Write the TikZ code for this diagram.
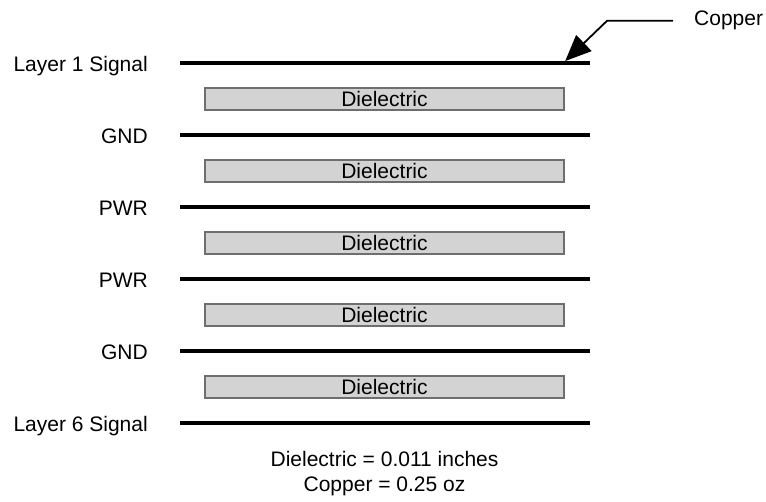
\documentclass[tikz,border=0pt]{standalone}
\usepackage{fontspec}
\setmainfont{Liberation Sans}
\usetikzlibrary{positioning,arrows.meta}
\definecolor{StackCopper}{RGB}{0,0,0}
\definecolor{StackEdge}{RGB}{110,110,110}
\definecolor{StackFill}{RGB}{211,211,211}

\begin{document}
\begin{tikzpicture}[
x=1pt,y=1pt,
font=\fontsize{21}{25}\selectfont,
copper/.style={rectangle,fill=StackCopper,inner sep=0pt,minimum width=410pt,minimum height=3.5pt},
diel/.style={rectangle,draw=StackEdge,fill=StackFill,line width=2pt,inner sep=0pt,
minimum width=359pt,minimum height=22pt},
lbl/.style={anchor=base east,inner sep=0pt},
arrow/.style={-{Triangle[length=26pt,width=22pt]},line width=1.8pt,draw=black}
]
\useasboundingbox (0,0) rectangle (766,502);
% copper layers
\node[copper] (l1) at (385,439) {};
\node[copper] (l2) at (385,367) {};
\node[copper] (l3) at (385,295) {};
\node[copper] (l4) at (385,223) {};
\node[copper] (l5) at (385,151) {};
\node[copper] (l6) at (385,79) {};
% dielectric layers
\node[diel] (d1) at (384.5,403) {Dielectric};
\node[diel] (d2) at (384.5,331) {Dielectric};
\node[diel] (d3) at (384.5,259) {Dielectric};
\node[diel] (d4) at (384.5,187) {Dielectric};
\node[diel] (d5) at (384.5,115) {Dielectric};
% layer names
\node[lbl] (n1) at (148,430) {Layer 1 Signal};
\node[lbl] (n2) at (148,358) {GND};
\node[lbl] (n3) at (148,286) {PWR};
\node[lbl] (n4) at (148,214) {PWR};
\node[lbl] (n5) at (148,142) {GND};
\node[lbl] (n6) at (148,70) {Layer 6 Signal};
% callout
\node[anchor=base west,inner xsep=21pt,inner ysep=0pt] (cu) at (673,476) {Copper};
\coordinate (tip) at ([xshift=-25pt]l1.north east);
\draw[arrow] (cu.west) -- ++(-66,0) -- (tip);
\node[align=center] (note) at (384.5,28) {Dielectric = 0.011 inches\\Copper = 0.25 oz};
\end{tikzpicture}
\end{document}
